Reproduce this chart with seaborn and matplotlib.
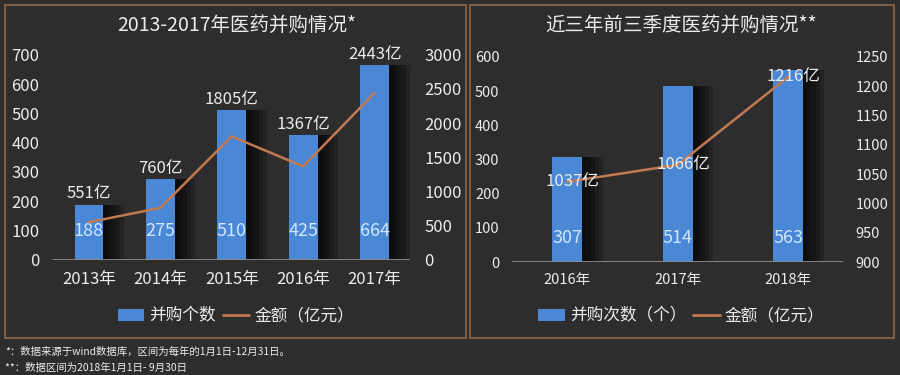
import matplotlib
matplotlib.use('Agg')
import matplotlib.pyplot as plt
import matplotlib.patheffects as pe
from matplotlib.patches import Rectangle, Patch
from matplotlib.lines import Line2D
import seaborn as sns

# data
years_a = ['2013年', '2014年', '2015年', '2016年', '2017年']
deals_a = [188, 275, 510, 425, 664]
amount_a = [551, 760, 1805, 1367, 2443]

years_b = ['2016年', '2017年', '2018年']
deals_b = [307, 514, 563]
amount_b = [1037, 1066, 1216]

BG = '#2e2d2d'
BLUE = '#4a88d6'
ORANGE = '#c27a52'
BORDER = '#7d5c42'
TXT = '#ececec'
INNER = '#cfe6ff'

sns.set_theme(style='dark')
plt.rcParams['font.family'] = ['Noto Sans CJK SC', 'DejaVu Sans']
plt.rcParams['axes.unicode_minus'] = False

fig = plt.figure(figsize=(9, 3.75), dpi=100, facecolor=BG)

# soft dark shadow to the right of each bar
shadow = [pe.SimplePatchShadow(offset=(o, 0), shadow_rgbFace='black', alpha=0.22)
          for o in (3, 6, 9, 12, 15)] + [pe.Normal()]


def panel(rect, cats, deals, amounts, ylim, yticks, y2lim, y2ticks, width,
          tick_fs, xtick_fs, pad, inner_y, label_above, title, title_x, legend_labels, legend_x):
    ax = fig.add_axes(rect)
    ax.set_facecolor('none')
    sns.barplot(x=cats, y=deals, ax=ax, color=BLUE, width=width, saturation=1,
                linewidth=0, edgecolor='none')
    for p in ax.patches:
        p.set_path_effects(shadow)
    ax.set_xlim(-0.5, len(cats) - 0.5)
    ax.set_ylim(*ylim)
    ax.set_yticks(yticks)
    ax.axhline(0, color='#8c8c8c', lw=1.3, zorder=3)
    for s in ax.spines.values():
        s.set_visible(False)
    ax.tick_params(axis='y', colors=TXT, labelsize=tick_fs, length=0, pad=pad)
    ax.tick_params(axis='x', colors=TXT, labelsize=xtick_fs, length=0, pad=8)
    ax.grid(False)
    for i, v in enumerate(deals):
        ax.text(i, inner_y, str(v), ha='center', va='center', color=INNER, fontsize=13, zorder=5)

    ax2 = ax.twinx()
    sns.lineplot(x=list(range(len(cats))), y=amounts, ax=ax2, color=ORANGE, lw=1.8)
    ax2.set_ylim(*y2lim)
    ax2.set_yticks(y2ticks)
    for s in ax2.spines.values():
        s.set_visible(False)
    ax2.tick_params(axis='y', colors=TXT, labelsize=tick_fs, length=0, pad=pad)
    ax2.grid(False)
    ax2.set_ylabel('')

    for i, v in enumerate(amounts):
        if label_above:
            ax.annotate(f'{v}亿', (i, deals[i]), xytext=(0, 2), textcoords='offset points',
                        ha='center', va='bottom', color=TXT, fontsize=12, zorder=6)
        else:
            ax2.annotate(f'{v}亿', (i, v), xytext=(4, 0), textcoords='offset points',
                         ha='center', va='center', color=TXT, fontsize=12, zorder=6)

    fig.text(title_x, 0.933, title, ha='center', va='center', color=TXT, fontsize=14)
    handles = [Patch(facecolor=BLUE, edgecolor='none'),
               Line2D([0], [0], color=ORANGE, lw=2)]
    fig.legend(handles, legend_labels, loc='center', bbox_to_anchor=(legend_x, 0.157),
               ncol=2, frameon=False, fontsize=12, labelcolor=TXT, handlelength=1.6,
               handleheight=0.7, columnspacing=0.4, handletextpad=0.3)
    return ax


panel([0.059, 0.307, 0.397, 0.547], years_a, deals_a, amount_a,
      (0, 700), range(0, 701, 100), (0, 3000), range(0, 3001, 500), 0.4,
      12, 12, 10, 100, True, '2013-2017年医药并购情况*', 0.263, ['并购个数', '金额（亿元）'], 0.262)

panel([0.569, 0.301, 0.368, 0.547], years_b, deals_b, amount_b,
      (0, 600), range(0, 601, 100), (900, 1250), range(900, 1251, 50), 0.27,
      10.5, 10.5, 9, 70, False, '近三年前三季度医药并购情况**', 0.757, ['并购次数（个）', '金额（亿元）'], 0.757)

fig.patches.append(Rectangle((5 / 900, 0.099), 461 / 900, 0.888, transform=fig.transFigure,
                             fill=False, edgecolor=BORDER, lw=1.5))
fig.patches.append(Rectangle((470 / 900, 0.099), 424 / 900, 0.888, transform=fig.transFigure,
                             fill=False, edgecolor=BORDER, lw=1.5))

fig.text(0.006, 0.061, '*：数据来源于wind数据库，区间为每年的1月1日-12月31日。', color=TXT, fontsize=7.5, va='center')
fig.text(0.006, 0.019, '**：数据区间为2018年1月1日- 9月30日', color=TXT, fontsize=7.5, va='center')

fig.savefig('out.png', dpi=100, facecolor=BG)
